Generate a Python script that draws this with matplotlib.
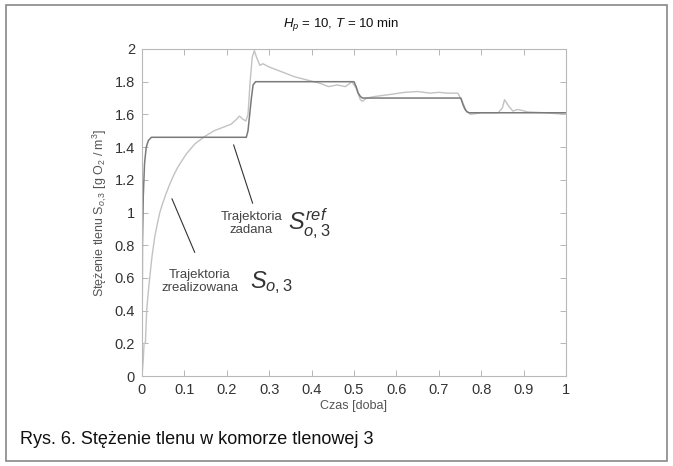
import matplotlib
matplotlib.use("Agg")
import matplotlib.pyplot as plt
from matplotlib.patches import Rectangle

plt.rcParams['font.family'] = ['Liberation Sans', 'DejaVu Sans']
plt.rcParams['mathtext.fontset'] = 'custom'
plt.rcParams['mathtext.rm'] = 'Liberation Sans'
plt.rcParams['mathtext.it'] = 'Liberation Sans:italic'
plt.rcParams['mathtext.bf'] = 'Liberation Sans:bold'

# Reference (set-point) trajectory
t_ref = [0, 0.001, 0.003, 0.006, 0.010, 0.015, 0.022, 0.246, 0.250, 0.254, 0.258,
         0.262, 0.268, 0.500, 0.505, 0.510, 0.515, 0.520, 0.752, 0.757, 0.762,
         0.767, 0.772, 1.0]
v_ref = [0, 0.80, 1.10, 1.30, 1.40, 1.44, 1.46, 1.46, 1.50, 1.60, 1.70,
         1.78, 1.80, 1.80, 1.77, 1.73, 1.71, 1.70, 1.70, 1.66, 1.63,
         1.615, 1.61, 1.61]

# Realized trajectory
t_real = [0, 0.003, 0.005, 0.008, 0.011, 0.015, 0.019, 0.024, 0.030, 0.036, 0.042,
          0.048, 0.056, 0.065, 0.075, 0.085, 0.095, 0.105, 0.115, 0.125, 0.135,
          0.148, 0.17, 0.19, 0.21, 0.223, 0.23, 0.238, 0.245, 0.25, 0.255, 0.26,
          0.265, 0.27, 0.278, 0.285, 0.30, 0.33, 0.36, 0.39, 0.42, 0.44, 0.46,
          0.48, 0.495, 0.505, 0.515, 0.52, 0.53, 0.55, 0.58, 0.62, 0.65, 0.68,
          0.70, 0.72, 0.745, 0.755, 0.765, 0.775, 0.8, 0.84, 0.85, 0.855, 0.865,
          0.875, 0.885, 0.895, 0.91, 0.95, 1.0]
v_real = [0, 0.10, 0.20, 0.20, 0.40, 0.52, 0.62, 0.74, 0.85, 0.93, 1.00,
          1.05, 1.11, 1.17, 1.23, 1.28, 1.32, 1.36, 1.39, 1.42, 1.44,
          1.465, 1.50, 1.52, 1.54, 1.57, 1.59, 1.57, 1.56, 1.60, 1.80, 1.95,
          1.99, 1.95, 1.90, 1.91, 1.89, 1.86, 1.83, 1.81, 1.79, 1.77, 1.78,
          1.77, 1.80, 1.76, 1.69, 1.68, 1.70, 1.71, 1.72, 1.735, 1.74, 1.73,
          1.735, 1.73, 1.73, 1.68, 1.62, 1.60, 1.61, 1.61, 1.64, 1.69, 1.65,
          1.62, 1.63, 1.625, 1.615, 1.61, 1.60]

x_ticks = [0, 0.1, 0.2, 0.3, 0.4, 0.5, 0.6, 0.7, 0.8, 0.9, 1]
x_ticklabels = ['0', '0.1', '0.2', '0.3', '0.4', '0.5', '0.6', '0.7', '0.8', '0.9', '1']
y_ticks = [0, 0.2, 0.4, 0.6, 0.8, 1.0, 1.2, 1.4, 1.6, 1.8, 2.0]
y_ticklabels = ['0', '0.2', '0.4', '0.6', '0.8', '1', '1.2', '1.4', '1.6', '1.8', '2']

fig = plt.figure(figsize=(6.73, 4.66), dpi=100)
ax = fig.add_axes([142/673, 1 - 376/466, 424/673, 327/466])

ax.plot(t_real, v_real, color='#c2c2c2', lw=1.0)
ax.plot(t_ref, v_ref, color='#7a7a7a', lw=1.1)

ax.set_xlim(0, 1)
ax.set_ylim(0, 2)
ax.set_xticks(x_ticks)
ax.set_xticklabels(x_ticklabels)
ax.set_yticks(y_ticks)
ax.set_yticklabels(y_ticklabels)
ax.tick_params(direction='in', top=True, right=True, length=4, width=0.6,
               color='#aaaaaa', labelsize=10.5, labelcolor='#333333', pad=5)
for s in ax.spines.values():
    s.set_color('#b8b8b8')
    s.set_linewidth(0.8)

ax.set_xlabel('Czas [doba]', fontsize=9, color='#555555', labelpad=2)
ax.set_ylabel(r'Stężenie tlenu S$_{o,3}$ [g O$_2$ / m$^3$]', fontsize=9,
              color='#555555', labelpad=4)

# annotations
ax.annotate('', xy=(0.214, 1.43), xytext=(0.263, 1.04),
            arrowprops=dict(arrowstyle='-', color='#333333', lw=0.8))
ax.annotate('', xy=(0.068, 1.10), xytext=(0.127, 0.74),
            arrowprops=dict(arrowstyle='-', color='#333333', lw=0.8))
ax.text(0.258, 0.935, 'Trajektoria\nzadana', ha='center', va='center',
        fontsize=9.5, color='#444444', linespacing=1.1)
ax.text(0.345, 0.93, r'$S_{o,3}^{ref}$', ha='left', va='center',
        fontsize=17, color='#333333')
ax.text(0.137, 0.58, 'Trajektoria\nzrealizowana', ha='center', va='center',
        fontsize=9.5, color='#444444', linespacing=1.1)
ax.text(0.255, 0.57, r'$S_{o,3}$', ha='left', va='center',
        fontsize=17, color='#333333')

fig.text(341/673, 1 - 25/466, r'$H_p$ = 10, $T$ = 10 min', ha='center',
         va='center', fontsize=9.5, color='#111111')
fig.text(20/673, 1 - 440/466, 'Rys. 6. Stężenie tlenu w komorze tlenowej 3',
         ha='left', va='center', fontsize=13, color='#111111')

fig.patches.append(Rectangle((6/673, 5/466), 661/673, 456/466,
                             transform=fig.transFigure, fill=False,
                             edgecolor='#888888', lw=1.2))

fig.savefig('out.png', dpi=100)
